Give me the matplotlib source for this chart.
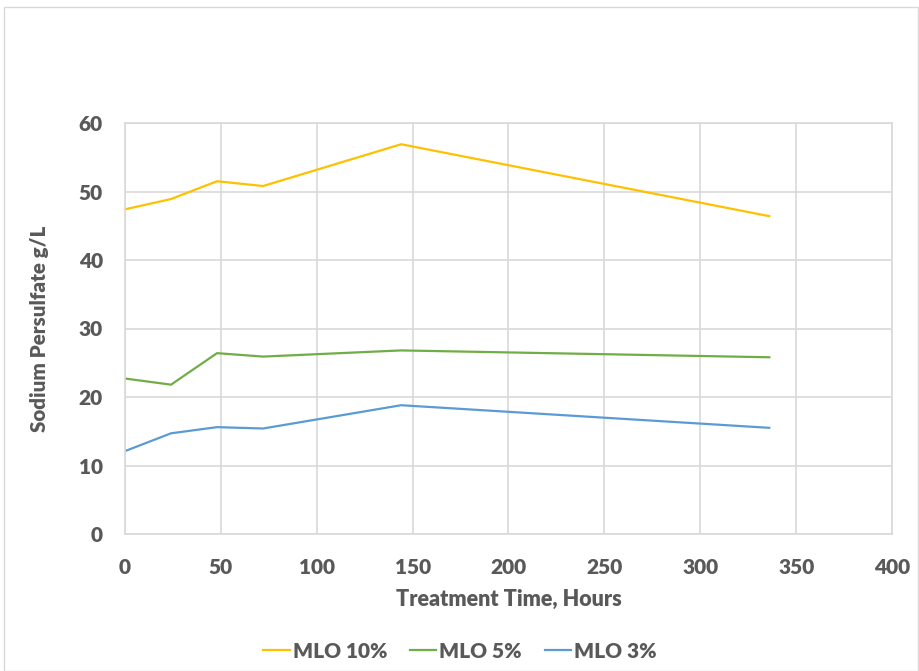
import matplotlib
matplotlib.use("Agg")
import matplotlib.pyplot as plt
from matplotlib.patches import Rectangle

hours = [0, 24, 48, 72, 144, 336]
mlo10 = [47.4, 48.9, 51.5, 50.8, 56.9, 46.4]
mlo5 = [22.7, 21.8, 26.4, 25.9, 26.8, 25.8]
mlo3 = [12.1, 14.7, 15.6, 15.4, 18.8, 15.5]
series_names = ["MLO 10%", "MLO 5%", "MLO 3%"]
colors = ["#FFC000", "#70AD47", "#5B9BD5"]
xticks = [0, 50, 100, 150, 200, 250, 300, 350, 400]
yticks = [0, 10, 20, 30, 40, 50, 60]

plt.rcParams['font.family'] = ['Lato', 'DejaVu Sans']
txt = "#595959"
W = "heavy"

fig = plt.figure(figsize=(9.2, 6.71), dpi=100)
fig.patches.append(Rectangle((4/920, 0.0), 914/920, 1 - 7/671, transform=fig.transFigure,
                             fill=False, edgecolor="#d9d9d9", linewidth=1.0))
ax = fig.add_axes([125/920, 1 - 534/671, (892 - 125)/920, (534 - 123)/671])

for vals, name, c in zip([mlo10, mlo5, mlo3], series_names, colors):
    ax.plot(hours, vals, color=c, linewidth=1.6, label=name)

ax.set_xlim(0, 400)
ax.set_ylim(0, 60)
ax.set_xticks(xticks)
ax.set_yticks(yticks)
ax.grid(True, color="#d9d9d9", linewidth=1.2)
ax.set_axisbelow(True)
for s in ax.spines.values():
    s.set_color("#d9d9d9")
    s.set_linewidth(1.2)
ax.tick_params(length=0, labelsize=15, labelcolor=txt)
ax.tick_params(axis="y", pad=16)
ax.tick_params(axis="x", pad=17)
for lab in ax.get_xticklabels() + ax.get_yticklabels():
    lab.set_fontweight(W)

ax.set_xlabel("Treatment Time, Hours", fontsize=15.5, fontweight=W, color=txt, labelpad=9)
ax.set_ylabel("Sodium Persulfate g/L", fontsize=14.8, fontweight=W, color=txt, labelpad=21)

leg = fig.legend(loc="center", bbox_to_anchor=(0.5, 1 - 651/671), ncol=3, frameon=False,
                 fontsize=15, handlelength=1.25, handletextpad=0.15, columnspacing=1.1)
for t in leg.get_texts():
    t.set_color(txt)
    t.set_fontweight(W)

fig.savefig("out.png", dpi=100)
